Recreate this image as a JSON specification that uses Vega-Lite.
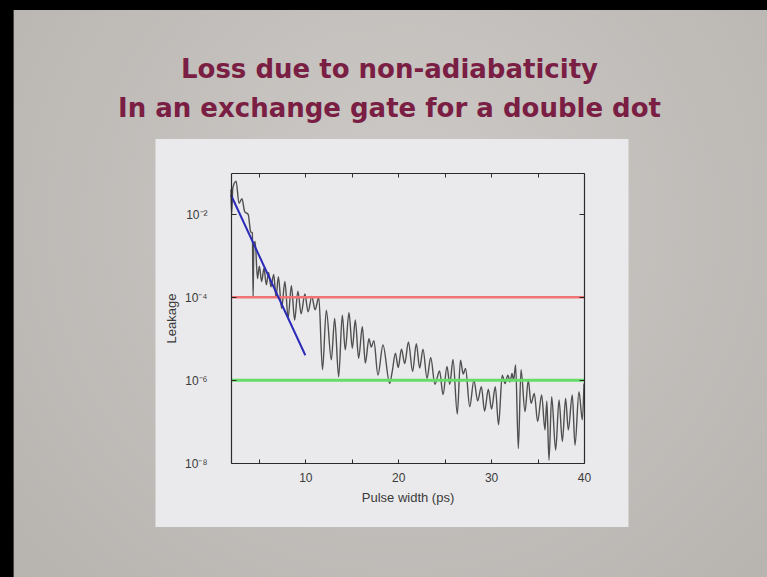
{
  "$schema": "https://vega.github.io/schema/vega-lite/v6.json",
  "width": 353,
  "height": 290,
  "autosize": {"type": "none"},
  "padding": {"left": 231, "top": 173, "right": 183, "bottom": 114},
  "background": "#000000",
  "config": {"view": {"stroke": null}, "axis": {"grid": false}},
  "title": {
    "text": ["Loss due to non-adiabaticity", "In an exchange gate for a double dot"],
    "font": "DejaVu Sans",
    "fontSize": 26,
    "fontWeight": "bold",
    "color": "#7a1e44",
    "lineHeight": 38.5,
    "anchor": "middle",
    "frame": "group",
    "baseline": "alphabetic",
    "offset": -133,
    "dx": -18,
    "zindex": 1
  },
  "layer": [
    {
      "data": {"values": [{}]},
      "mark": {"type": "rect", "color": {"gradient": "radial", "x1": 0.5, "y1": 0.4, "r1": 0, "x2": 0.5, "y2": 0.4, "r2": 0.8, "stops": [{"offset": 0, "color": "#cdcac7"}, {"offset": 1, "color": "#b3afab"}]}},
      "encoding": {
        "x": {"datum": -21.4, "type": "quantitative", "scale": {"type": "linear", "domain": [2, 40], "zero": false, "nice": false}, "axis": null},
        "x2": {"datum": 62},
        "y": {"datum": 860, "type": "quantitative", "scale": {"type": "log", "domain": [1e-8, 0.1], "nice": false}, "axis": null},
        "y2": {"datum": 1e-11}
      }
    },
    {
      "data": {"values": [{}]},
      "mark": {"type": "rect", "color": "#eaeaec"},
      "encoding": {
        "x": {"datum": -6.13, "type": "quantitative", "scale": {"type": "linear", "domain": [2, 40], "zero": false, "nice": false}, "axis": null},
        "x2": {"datum": 44.79},
        "y": {"datum": 0.662, "type": "quantitative", "scale": {"type": "log", "domain": [1e-8, 0.1], "nice": false}, "axis": null},
        "y2": {"datum": 2.85e-10}
      }
    },
    {
      "data": {"values": [
        {"pulse_ps": 2.00, "leakage": 3.98e-2}, {"pulse_ps": 2.06, "leakage": 1.00e-2}, {"pulse_ps": 2.20, "leakage": 4.47e-2}, {"pulse_ps": 2.55, "leakage": 6.31e-2},
        {"pulse_ps": 2.86, "leakage": 1.86e-2}, {"pulse_ps": 3.18, "leakage": 2.40e-2}, {"pulse_ps": 3.47, "leakage": 1.17e-2}, {"pulse_ps": 3.85, "leakage": 1.00e-2},
        {"pulse_ps": 4.12, "leakage": 3.80e-3}, {"pulse_ps": 4.30, "leakage": 3.55e-3}, {"pulse_ps": 4.38, "leakage": 9.55e-5}, {"pulse_ps": 4.46, "leakage": 2.00e-3},
        {"pulse_ps": 4.60, "leakage": 2.24e-3}, {"pulse_ps": 4.85, "leakage": 2.82e-4}, {"pulse_ps": 5.05, "leakage": 5.62e-4}, {"pulse_ps": 5.30, "leakage": 2.40e-4},
        {"pulse_ps": 5.55, "leakage": 5.01e-4}, {"pulse_ps": 5.80, "leakage": 2.00e-4}, {"pulse_ps": 6.05, "leakage": 3.98e-4}, {"pulse_ps": 6.30, "leakage": 1.78e-4},
        {"pulse_ps": 6.60, "leakage": 3.55e-4}, {"pulse_ps": 6.85, "leakage": 1.00e-4}, {"pulse_ps": 7.10, "leakage": 3.16e-4}, {"pulse_ps": 7.45, "leakage": 5.37e-5},
        {"pulse_ps": 7.80, "leakage": 2.40e-4}, {"pulse_ps": 8.15, "leakage": 3.16e-5}, {"pulse_ps": 8.50, "leakage": 1.91e-4}, {"pulse_ps": 8.85, "leakage": 2.82e-5},
        {"pulse_ps": 9.20, "leakage": 1.41e-4}, {"pulse_ps": 9.55, "leakage": 3.98e-5}, {"pulse_ps": 9.95, "leakage": 1.20e-4}, {"pulse_ps": 10.30, "leakage": 4.47e-5},
        {"pulse_ps": 10.70, "leakage": 1.05e-4}, {"pulse_ps": 11.05, "leakage": 5.01e-5}, {"pulse_ps": 11.45, "leakage": 1.00e-4}, {"pulse_ps": 11.85, "leakage": 1.78e-6},
        {"pulse_ps": 12.26, "leakage": 4.90e-5}, {"pulse_ps": 12.80, "leakage": 3.09e-6}, {"pulse_ps": 13.16, "leakage": 3.09e-5}, {"pulse_ps": 13.59, "leakage": 1.20e-6},
        {"pulse_ps": 13.98, "leakage": 3.72e-5}, {"pulse_ps": 14.30, "leakage": 5.37e-6}, {"pulse_ps": 14.70, "leakage": 4.27e-5}, {"pulse_ps": 15.06, "leakage": 5.89e-6},
        {"pulse_ps": 15.38, "leakage": 2.82e-5}, {"pulse_ps": 15.74, "leakage": 3.39e-6}, {"pulse_ps": 16.14, "leakage": 1.95e-5}, {"pulse_ps": 16.46, "leakage": 2.57e-6},
        {"pulse_ps": 16.85, "leakage": 1.00e-5}, {"pulse_ps": 17.10, "leakage": 6.31e-6}, {"pulse_ps": 17.38, "leakage": 8.91e-6}, {"pulse_ps": 17.82, "leakage": 1.32e-6},
        {"pulse_ps": 18.36, "leakage": 7.08e-6}, {"pulse_ps": 19.08, "leakage": 8.32e-7}, {"pulse_ps": 19.35, "leakage": 1.58e-6}, {"pulse_ps": 19.70, "leakage": 4.47e-6},
        {"pulse_ps": 20.00, "leakage": 2.00e-6}, {"pulse_ps": 20.35, "leakage": 5.62e-6}, {"pulse_ps": 20.70, "leakage": 2.51e-6}, {"pulse_ps": 21.10, "leakage": 8.32e-6},
        {"pulse_ps": 21.55, "leakage": 1.62e-6}, {"pulse_ps": 21.95, "leakage": 7.59e-6}, {"pulse_ps": 22.31, "leakage": 1.95e-6}, {"pulse_ps": 22.67, "leakage": 5.62e-6},
        {"pulse_ps": 23.10, "leakage": 1.10e-6}, {"pulse_ps": 23.50, "leakage": 3.55e-6}, {"pulse_ps": 23.95, "leakage": 7.94e-7}, {"pulse_ps": 24.45, "leakage": 1.66e-6},
        {"pulse_ps": 24.83, "leakage": 4.47e-7}, {"pulse_ps": 25.25, "leakage": 2.14e-6}, {"pulse_ps": 25.55, "leakage": 7.94e-7}, {"pulse_ps": 25.90, "leakage": 3.16e-6},
        {"pulse_ps": 26.36, "leakage": 1.51e-7}, {"pulse_ps": 26.70, "leakage": 3.02e-6}, {"pulse_ps": 27.00, "leakage": 1.41e-6}, {"pulse_ps": 27.25, "leakage": 1.91e-6},
        {"pulse_ps": 27.70, "leakage": 2.29e-7}, {"pulse_ps": 28.15, "leakage": 1.00e-6}, {"pulse_ps": 28.55, "leakage": 3.16e-7}, {"pulse_ps": 28.95, "leakage": 6.92e-7},
        {"pulse_ps": 29.30, "leakage": 1.78e-7}, {"pulse_ps": 29.70, "leakage": 6.03e-7}, {"pulse_ps": 30.05, "leakage": 2.00e-7}, {"pulse_ps": 30.45, "leakage": 6.92e-7},
        {"pulse_ps": 30.80, "leakage": 8.32e-8}, {"pulse_ps": 31.20, "leakage": 1.32e-6}, {"pulse_ps": 31.50, "leakage": 8.32e-7}, {"pulse_ps": 31.80, "leakage": 1.32e-6},
        {"pulse_ps": 32.05, "leakage": 9.12e-7}, {"pulse_ps": 32.25, "leakage": 1.45e-6}, {"pulse_ps": 32.42, "leakage": 1.00e-6}, {"pulse_ps": 32.64, "leakage": 2.34e-6},
        {"pulse_ps": 32.93, "leakage": 2.24e-8}, {"pulse_ps": 33.22, "leakage": 1.78e-6}, {"pulse_ps": 33.65, "leakage": 1.74e-7}, {"pulse_ps": 34.00, "leakage": 1.00e-6},
        {"pulse_ps": 34.30, "leakage": 2.75e-7}, {"pulse_ps": 34.65, "leakage": 4.79e-7}, {"pulse_ps": 35.01, "leakage": 1.00e-7}, {"pulse_ps": 35.44, "leakage": 4.37e-7},
        {"pulse_ps": 35.80, "leakage": 6.31e-8}, {"pulse_ps": 36.00, "leakage": 3.16e-7}, {"pulse_ps": 36.23, "leakage": 1.17e-8}, {"pulse_ps": 36.52, "leakage": 3.98e-7},
        {"pulse_ps": 36.95, "leakage": 2.04e-8}, {"pulse_ps": 37.31, "leakage": 3.31e-7}, {"pulse_ps": 37.67, "leakage": 3.31e-8}, {"pulse_ps": 38.02, "leakage": 3.63e-7},
        {"pulse_ps": 38.31, "leakage": 6.31e-8}, {"pulse_ps": 38.74, "leakage": 4.37e-7}, {"pulse_ps": 39.03, "leakage": 2.69e-8}, {"pulse_ps": 39.46, "leakage": 5.25e-7},
        {"pulse_ps": 39.82, "leakage": 1.10e-7}, {"pulse_ps": 40.00, "leakage": 8.32e-7}
      ]},
      "mark": {"type": "line", "color": "#4f4f4f", "strokeWidth": 1.4, "interpolate": "monotone"},
      "encoding": {
        "x": {"field": "pulse_ps", "type": "quantitative", "scale": {"type": "linear", "domain": [2, 40], "zero": false, "nice": false},
          "axis": {"orient": "bottom", "values": [5, 10, 15, 20, 25, 30, 35, 40], "labelExpr": "datum.value % 10 === 0 ? datum.label : ''",
            "tickSize": -4, "tickColor": "#2b2b2b", "tickWidth": 1, "domainColor": "#2b2b2b", "domainWidth": 1.2,
            "labelPadding": 13, "labelFont": "Liberation Sans", "labelFontSize": 12, "labelColor": "#3a3a3a", "labelFlush": false, "labelOverlap": false,
            "title": "Pulse width (ps)", "titleFont": "Liberation Sans", "titleFontSize": 13, "titleFontWeight": "normal", "titleColor": "#3a3a3a", "titlePadding": 8, "zindex": 1}},
        "y": {"field": "leakage", "type": "quantitative", "scale": {"type": "log", "domain": [1e-8, 0.1], "nice": false},
          "axis": {"orient": "left", "values": [1e-8, 1e-6, 1e-4, 1e-2],
            "labelExpr": "'10' + (datum.value < 5e-8 ? '⁻⁸' : datum.value < 5e-6 ? '⁻⁶' : datum.value < 5e-4 ? '⁻⁴' : '⁻²')",
            "tickSize": -5, "tickColor": "#2b2b2b", "tickWidth": 1, "domainColor": "#2b2b2b", "domainWidth": 1.2,
            "labelPadding": 29, "labelFont": "Liberation Sans", "labelFontSize": 12, "labelColor": "#3a3a3a", "labelFlush": false, "labelOverlap": false,
            "title": "Leakage", "titleFont": "Liberation Sans", "titleFontSize": 13, "titleFontWeight": "normal", "titleColor": "#3a3a3a", "titlePadding": 6, "zindex": 1}}
      }
    },
    {
      "data": {"values": [{"leakage": 1e-4}]},
      "mark": {"type": "rule", "color": "#f07474", "strokeWidth": 2.5},
      "encoding": {
        "y": {"field": "leakage", "type": "quantitative", "scale": {"type": "log", "domain": [1e-8, 0.1], "nice": false}, "axis": null}
      }
    },
    {
      "data": {"values": [{"leakage": 1e-6}]},
      "mark": {"type": "rule", "color": "#66dd66", "strokeWidth": 3},
      "encoding": {
        "y": {"field": "leakage", "type": "quantitative", "scale": {"type": "log", "domain": [1e-8, 0.1], "nice": false}, "axis": null}
      }
    },
    {
      "data": {"values": [{"pulse_ps": 2, "leakage": 2.95e-2}, {"pulse_ps": 10, "leakage": 3.98e-6}]},
      "mark": {"type": "line", "color": "#2a2ab8", "strokeWidth": 2},
      "encoding": {
        "x": {"field": "pulse_ps", "type": "quantitative", "scale": {"type": "linear", "domain": [2, 40], "zero": false, "nice": false},
          "axis": {"orient": "top", "values": [5, 10, 15, 20, 25, 30, 35, 40], "labels": false, "tickSize": -4, "tickColor": "#2b2b2b", "domainColor": "#2b2b2b", "domainWidth": 1.2, "title": null, "zindex": 1}},
        "y": {"field": "leakage", "type": "quantitative", "scale": {"type": "log", "domain": [1e-8, 0.1], "nice": false},
          "axis": {"orient": "right", "values": [1e-8, 1e-6, 1e-4, 1e-2], "labels": false, "tickSize": -5, "tickColor": "#2b2b2b", "domainColor": "#2b2b2b", "domainWidth": 1.2, "title": null, "zindex": 1}}
      }
    }
  ],
  "resolve": {"axis": {"x": "independent", "y": "independent"}}
}
